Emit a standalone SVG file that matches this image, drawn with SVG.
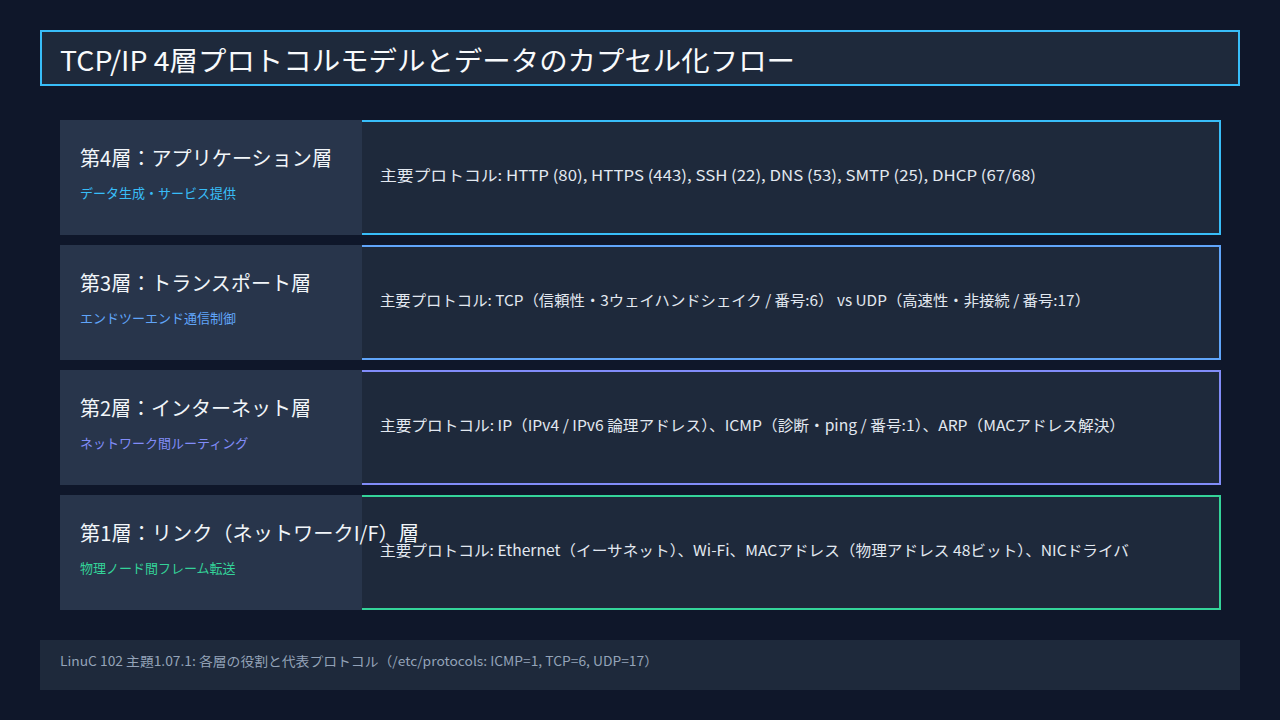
<svg xmlns="http://www.w3.org/2000/svg" width="1280" height="720" viewBox="0 0 1280 720">
<style>
text{font-family:"Noto Sans CJK JP","Noto Sans",sans-serif}
.lp{fill:#28354b}
.rb{fill:#1e293b;stroke-width:2}
.lt{font-size:20px;fill:#f1f5f9}
.st{font-size:13px}
.pt{font-size:15px;fill:#e2e8f0}
</style>
<rect width="1280" height="720" fill="#0f172a"/>
<g id="title">
<rect x="41" y="31" width="1198" height="54" fill="#1e293b" stroke="#38bdf8" stroke-width="2"/>
<text x="60" y="71" font-size="27" fill="#f8fafc" textLength="735" lengthAdjust="spacingAndGlyphs">TCP/IP 4層プロトコルモデルとデータのカプセル化フロー</text>
</g>
<g id="layer4">
<rect class="rb" x="361" y="121" width="859" height="113" stroke="#38bdf8"/>
<rect class="lp" x="60" y="120" width="302" height="115"/>
<text class="lt" x="80" y="166" textLength="252" lengthAdjust="spacingAndGlyphs">第4層：アプリケーション層</text>
<text class="st" x="80" y="198" fill="#38bdf8">データ生成・サービス提供</text>
<text class="pt" x="380" y="181" textLength="656" lengthAdjust="spacingAndGlyphs">主要プロトコル: HTTP (80), HTTPS (443), SSH (22), DNS (53), SMTP (25), DHCP (67/68)</text>
</g>
<g id="layer3">
<rect class="rb" x="361" y="246" width="859" height="113" stroke="#60a5fa"/>
<rect class="lp" x="60" y="245" width="302" height="115"/>
<text class="lt" x="80" y="291" textLength="231" lengthAdjust="spacingAndGlyphs">第3層：トランスポート層</text>
<text class="st" x="80" y="323" fill="#60a5fa">エンドツーエンド通信制御</text>
<text class="pt" x="380" y="306" textLength="710" lengthAdjust="spacingAndGlyphs">主要プロトコル: TCP（信頼性・3ウェイハンドシェイク / 番号:6） vs UDP（高速性・非接続 / 番号:17）</text>
</g>
<g id="layer2">
<rect class="rb" x="361" y="371" width="859" height="113" stroke="#818cf8"/>
<rect class="lp" x="60" y="370" width="302" height="115"/>
<text class="lt" x="80" y="416" textLength="231" lengthAdjust="spacingAndGlyphs">第2層：インターネット層</text>
<text class="st" x="80" y="448" fill="#818cf8">ネットワーク間ルーティング</text>
<text class="pt" x="380" y="431" textLength="745" lengthAdjust="spacingAndGlyphs">主要プロトコル: IP（IPv4 / IPv6 論理アドレス）、ICMP（診断・ping / 番号:1）、ARP（MACアドレス解決）</text>
</g>
<g id="layer1">
<rect class="rb" x="361" y="496" width="859" height="113" stroke="#34d399"/>
<rect class="lp" x="60" y="495" width="302" height="115"/>
<text class="lt" x="80" y="541" textLength="339" lengthAdjust="spacingAndGlyphs">第1層：リンク（ネットワークI/F）層</text>
<text class="st" x="80" y="573" fill="#34d399">物理ノード間フレーム転送</text>
<text class="pt" x="380" y="556" textLength="749" lengthAdjust="spacingAndGlyphs">主要プロトコル: Ethernet（イーサネット）、Wi-Fi、MACアドレス（物理アドレス 48ビット）、NICドライバ</text>
</g>
<g id="connectors"></g>
<g id="footer">
<rect x="40" y="640" width="1200" height="50" fill="#1e293b"/>
<text x="60" y="666" font-size="13" fill="#94a3b8" textLength="598" lengthAdjust="spacingAndGlyphs">LinuC 102 主題1.07.1: 各層の役割と代表プロトコル（/etc/protocols: ICMP=1, TCP=6, UDP=17）</text>
</g>
</svg>
